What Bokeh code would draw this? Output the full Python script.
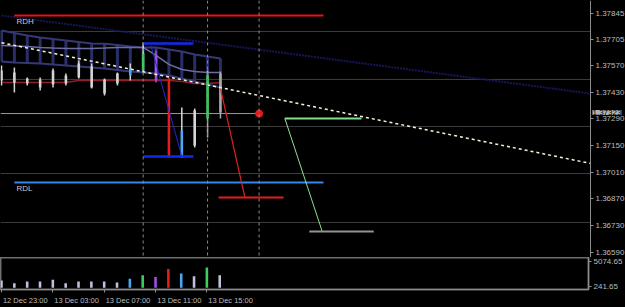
from bokeh.plotting import figure
from bokeh.models import Range1d, FixedTicker, PrintfTickFormatter, Span, Label, LinearAxis
from bokeh.layouts import column
from bokeh.embed import file_html
from bokeh.resources import INLINE
from bokeh.core.properties import value

# ---------------- data ----------------
bars = list(range(18))
time_tick_bars = [0, 4, 8, 12, 16]
time_tick_labels = ["12 Dec 23:00", "13 Dec 03:00", "13 Dec 07:00", "13 Dec 11:00", "13 Dec 15:00"]

price_ticks = [1.37845, 1.37705, 1.37570, 1.37430, 1.37290, 1.37150, 1.37010, 1.36870, 1.36730, 1.36590]
volume_ticks = [241.65, 5074.65]

open_ = [1.37544, 1.37534, 1.37502, 1.37497, 1.37544, 1.37518, 1.37581, 1.37565, 1.37497, 1.37528,
         1.37518, 1.37544, 1.37623, 1.37502, 1.37087, 1.37334, 1.37292, 1.37528]
high = [1.37570, 1.37560, 1.37507, 1.37507, 1.37555, 1.37528, 1.37597, 1.37581, 1.37502, 1.37534,
        1.37581, 1.37691, 1.37649, 1.37507, 1.37350, 1.37345, 1.37544, 1.37539]
low = [1.37465, 1.37429, 1.37465, 1.37439, 1.37455, 1.37465, 1.37502, 1.37450, 1.37413, 1.37465,
       1.37492, 1.37534, 1.37481, 1.37087, 1.37087, 1.37140, 1.37192, 1.37292]
close = [1.37492, 1.37481, 1.37476, 1.37455, 1.37471, 1.37476, 1.37507, 1.37455, 1.37423, 1.37476,
         1.37555, 1.37634, 1.37492, 1.37087, 1.37229, 1.37150, 1.37518, 1.37323]
body_colors = ["#d4d4d4"] * 10 + ["#4aa8f0", "#3ccf5c", "#a050e8", "#e41c1c", "#4aa8f0", "#d8d8d8", "#3ccf5c", "#a8a8a8"]
wick_colors = ["#d4d4d4"] * 10 + ["#d0d0d0", "#d8d8d8", "#a050e8", "#e41c1c", "#d8d8d8", "#d8d8d8", "#b0b0b0", "#a8a8a8"]

volume = [1350, 850, 1180, 1180, 1520, 850, 1180, 1180, 1180, 1010,
          1690, 2370, 2030, 3550, 2700, 2200, 3840, 2370]
volume_colors = ["#c0c0d8"] * 10 + ["#4aa8f0", "#3ccf5c", "#a050e8", "#e41c1c", "#4aa8f0", "#c0c0d8", "#3ccf5c", "#c0c0d8"]

band_top = [1.37754, 1.37741, 1.37728, 1.37717, 1.37709, 1.37702, 1.37694, 1.37686, 1.37684, 1.37678,
            1.37670, 1.37665, 1.37665, 1.37654, 1.37644, 1.37628, 1.37618, 1.37607]
band_mid = [1.37675, 1.37673, 1.37670, 1.37665, 1.37662, 1.37660, 1.37660, 1.37660, 1.37662, 1.37665,
            1.37665, 1.37665, 1.37623, 1.37576, 1.37549, 1.37539, 1.37534, 1.37534]
band_bot = [1.37591, 1.37586, 1.37584, 1.37581, 1.37576, 1.37570, 1.37565, 1.37560, 1.37555, 1.37547,
            1.37539, 1.37534, 1.37528, 1.37518, 1.37502, 1.37486, 1.37471, 1.37455]
ma_line = [1.37481, 1.37481, 1.37481, 1.37481, 1.37481, 1.37481, 1.37492, 1.37492, 1.37492, 1.37492,
           1.37492, 1.37492, 1.37492, 1.37492, 1.37486, 1.37476, 1.37476, 1.37481]

level_prices = [1.37749, 1.37497, 1.37250, 1.37003, 1.36746]
level_colors = ["#54342a", "#2c4a2c", "#3c3c3c", "#3c3c3c", "#3c3c3c"]
vline_bars = [11, 16, 20]

rdh_x = [1, 25]
rdh_price = 1.37833
rdl_x = [1, 25]
rdl_price = 1.36956

# chart window in bars: left edge, price-axis position, right edge of window
X_START = -0.078
X_AXIS = 45.73
X_END = 48.45

trend_x = [0, X_AXIS]
trend_y = [1.37690, 1.37056]
navy_x = [0, X_AXIS]
navy_y = [1.37833, 1.37423]

box_x = [11, 14.9]
box_top = 1.37686
box_bot = 1.37093
box_diag_x = [11.6, 14]
box_diag_y = [1.37675, 1.37093]

red_diag_x = [17, 18.9]
red_diag_y = [1.37450, 1.36877]
red_target_x = [16.85, 21.9]
red_target = 1.36877

signal_x = 20
signal_price = 1.37318
bid_price = 1.37323

green_top_x = [22, 27.95]
green_top = 1.37292
green_diag_x = [22, 24.9]
green_diag_y = [1.37292, 1.36699]
green_bot_x = [23.9, 28.9]
green_bot = 1.36699

FONT = "Liberation Sans"
LABEL_C = "#bcbcbc"
AXIS_C = "#8c8c8c"
TIME_LABEL_HALF = 1.85  # half a time label's width, in bars (labels start at their tick)

# ---------------- price panel ----------------
# the frame covers the whole window width; the price axis sits inside it at X_AXIS
p = figure(frame_width=625, frame_height=257, x_range=Range1d(X_START, X_END), y_range=Range1d(1.36562, 1.379117),
           output_backend="svg", toolbar_location=None, x_axis_location=None, y_axis_location=None,
           min_border_left=0, min_border_right=0, min_border_top=0, min_border_bottom=0,
           background_fill_color="black", border_fill_color="black", outline_line_color=None)
p.grid.visible = False

p.segment(x0=[X_START] * len(level_prices), y0=level_prices, x1=[X_AXIS] * len(level_prices), y1=level_prices,
          line_color=level_colors, line_width=1)
for vb in vline_bars:
    p.add_layout(Span(location=vb, dimension="height", line_color="#8a8a8a", line_width=1, line_dash="3 3"))

# navy dotted trend
p.line(navy_x, navy_y, line_color="#16165a", line_width=2, line_dash="2 1")

# band ladder
p.segment(x0=bars, y0=band_bot, x1=bars, y1=band_top, line_color="#2a2e68", line_width=3)
p.line(bars, band_top, line_color="#343876", line_width=2)
p.line(bars, band_bot, line_color="#343876", line_width=2)
p.line(bars, band_mid, line_color="#6c6ca4", line_width=1.5)

# moving average
p.line(bars, ma_line, line_color="#8e2028", line_width=1.5)

# bid segment
p.segment(x0=[X_START], y0=[signal_price], x1=[signal_x], y1=[signal_price], line_color="#9a9a9a", line_width=1)

# candles
body_top = [max(o, c) for o, c in zip(open_, close)]
body_bot = [min(o, c) for o, c in zip(open_, close)]
p.segment(x0=bars, y0=low, x1=bars, y1=high, line_color=wick_colors, line_width=1.5)
p.vbar(x=bars, width=0.2, top=body_top, bottom=body_bot, fill_color=body_colors, line_color=None)

# RDH / RDL
p.line(rdh_x, [rdh_price] * 2, line_color="#e41414", line_width=2)
p.line(rdl_x, [rdl_price] * 2, line_color="#3388ee", line_width=2)
p.text(x=[rdh_x[0]], y=[rdh_price], text=["RDH"], x_offset=2, y_offset=2, text_baseline="top",
       text_font=value(FONT), text_font_size="8px", text_color="#c8c8c8")
p.text(x=[rdl_x[0]], y=[rdl_price], text=["RDL"], x_offset=2, y_offset=2, text_baseline="top",
       text_font=value(FONT), text_font_size="8px", text_color="#c8c8c8")

# blue box
p.line(box_x, [box_top] * 2, line_color="#1428f0", line_width=2.5)
p.line(box_x, [box_bot] * 2, line_color="#1428f0", line_width=2.5)
p.line(box_diag_x, box_diag_y, line_color="#2828d0", line_width=1)

# red projection
p.line(red_diag_x, red_diag_y, line_color="#e02020", line_width=1.2)
p.line(red_target_x, [red_target] * 2, line_color="#e41c1c", line_width=2)
p.scatter(x=[signal_x], y=[signal_price], size=7, color="#e41c1c")

# green projection
p.line(green_top_x, [green_top] * 2, line_color="#80e090", line_width=2)
p.line(green_diag_x, green_diag_y, line_color="#90e090", line_width=1)
p.line(green_bot_x, [green_bot] * 2, line_color="#8e968e", line_width=2)

# white dashed trend
p.line(trend_x, trend_y, line_color="#f4f4d8", line_width=1.5, line_dash="3 3")

ax = LinearAxis(fixed_location=X_AXIS)
ax.ticker = FixedTicker(ticks=price_ticks)
ax.formatter = PrintfTickFormatter(format="%.5f")
ax.major_tick_out = 3
ax.major_tick_in = 0
ax.minor_tick_out = 0
ax.minor_tick_in = 0
ax.axis_line_color = AXIS_C
ax.major_tick_line_color = AXIS_C
ax.major_label_text_color = LABEL_C
ax.major_label_text_font = FONT
ax.major_label_text_font_size = "8px"
ax.major_label_standoff = 2
p.add_layout(ax, "right")

p.add_layout(Label(x=X_AXIS, y=bid_price, x_units="data", y_units="data", x_offset=2,
                   text="%.5f" % bid_price,
                   text_font=FONT, text_font_size="8px", text_color="#000000", text_baseline="middle",
                   text_align="left", background_fill_color="#b4b4b4"))

# ---------------- volume panel ----------------
v = figure(width=625, height=50, x_range=Range1d(X_START, X_AXIS), y_range=Range1d(-338, 5746),
           output_backend="svg", toolbar_location=None, y_axis_location="right",
           min_border_left=0, min_border_right=35, min_border_top=0, min_border_bottom=14,
           background_fill_color="black", border_fill_color="black",
           outline_line_color="#6e6e6e", outline_line_width=2)
v.grid.visible = False
v.vbar(x=bars, width=0.2, bottom=0, top=volume, fill_color=volume_colors, line_color=None)

vy = v.yaxis[0]
vy.ticker = FixedTicker(ticks=volume_ticks)
vy.formatter = PrintfTickFormatter(format="%.2f")
vy.major_tick_out = 3
vy.major_tick_in = 0
vy.minor_tick_out = 0
vy.minor_tick_in = 0
vy.axis_line_color = AXIS_C
vy.major_tick_line_color = AXIS_C
vy.major_label_text_color = LABEL_C
vy.major_label_text_font = FONT
vy.major_label_text_font_size = "8px"
vy.major_label_standoff = 2

label_centers = [b + TIME_LABEL_HALF for b in time_tick_bars]
vx = v.xaxis[0]
vx.ticker = FixedTicker(ticks=label_centers, minor_ticks=time_tick_bars)
vx.major_label_overrides = {c: t for c, t in zip(label_centers, time_tick_labels)}
vx.major_tick_out = 0
vx.major_tick_in = 0
vx.minor_tick_out = 3
vx.minor_tick_in = 0
vx.axis_line_color = AXIS_C
vx.minor_tick_line_color = AXIS_C
vx.major_label_text_color = LABEL_C
vx.major_label_text_font = FONT
vx.major_label_text_font_size = "7.5px"
vx.major_label_standoff = 3

layout = column(p, v, spacing=0,
                styles={"background-color": "black", "max-width": "625px", "overflow": "hidden"})
open("out.html", "w").write(file_html(layout, INLINE))
